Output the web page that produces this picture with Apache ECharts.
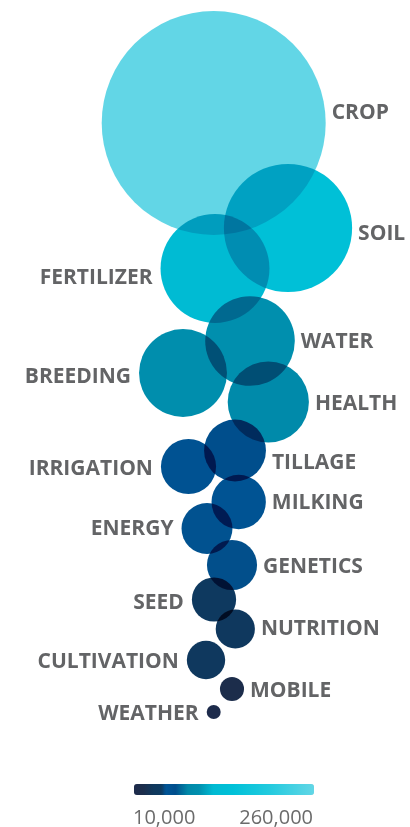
<!DOCTYPE html>
<html><head><meta charset="utf-8">
<script src="https://cdn.jsdelivr.net/npm/echarts@6/dist/echarts.min.js"></script>
<style>html,body{margin:0;padding:0;background:#fff}#chart{width:410px;height:827px}</style>
</head><body><div id="chart"></div>
<script>
// ---- data ----
const topics = ['CROP','SOIL','FERTILIZER','WATER','BREEDING','HEALTH','TILLAGE','IRRIGATION','MILKING','ENERGY','GENETICS','SEED','NUTRITION','CULTIVATION','MOBILE','WEATHER'];
const counts = [260000,146000,123000,100000,98000,90000,67000,59000,58000,54000,53000,46000,40000,39000,22000,10000];
const scaleTicks = [10000, 260000];

// ---- layout (bubble placement in axis units) ----
const posX = [213.7,288,215,250,183,268.3,235,188.5,238.7,207,232,214,235.3,206,232,213.7];
const posY = [123,228,268.5,341,373,402,450.5,466.5,502,528.5,565,599.5,629,660,689,712];
const labelSide = ['right','right','left','right','left','right','right','left','right','left','right','left','right','left','right','left'];
const labelShift = [-10,6,10,1,4,2,13,3,1,1,2,4,0,2,2,2];

// colour ramp
const stops = [[0,'#1D2B4B'],[0.05,'#1C2D4B'],[0.11,'#0F385D'],[0.155,'#0D3A60'],[0.175,'#005596'],[0.23,'#004E8C'],[0.30,'#0088A8'],[0.36,'#008FAE'],[0.44,'#00BAD2'],[0.55,'#00C1D8'],[0.75,'#22CADE'],[1,'#62D6E6']];
function hex(c){return [1,3,5].map(i=>parseInt(c.substr(i,2),16));}
function ramp(n){
  const out=[];
  for(let k=0;k<n;k++){
    const t=k/(n-1);
    let i=0; while(i<stops.length-2 && t>stops[i+1][0]) i++;
    const a=stops[i], b=stops[i+1];
    const f=(t-a[0])/(b[0]-a[0]);
    const ca=hex(a[1]), cb=hex(b[1]);
    const c=ca.map((v,j)=>Math.round(v+(cb[j]-v)*f));
    out.push('rgb('+c.join(',')+')');
  }
  return out;
}
const fmt = v => v.toLocaleString('en-US');

const chart = echarts.init(document.getElementById('chart'));
chart.setOption({
  backgroundColor:'#fff',
  animation:false,
  grid:{left:0,right:0,top:0,bottom:0},
  xAxis:{type:'value',min:0,max:410,show:false},
  yAxis:{type:'value',min:0,max:827,inverse:true,show:false},
  visualMap:[
    {type:'continuous',dimension:2,seriesIndex:0,min:scaleTicks[0],max:scaleTicks[1],
     orient:'horizontal',left:134,top:784,itemWidth:11,itemHeight:180,padding:0,
     calculable:false,hoverLink:false,text:null,
     inRange:{color:ramp(101)}},
    {type:'continuous',dimension:2,seriesIndex:0,min:scaleTicks[0],max:scaleTicks[1],show:false,
     inRange:{symbolSize:[14,224]}}
  ],
  graphic:[
    {type:'text',left:133,top:808,style:{text:fmt(scaleTicks[0]),font:'20px "Open Sans"',fill:'#6b6b6b'}},
    {type:'text',right:97,top:808,style:{text:fmt(scaleTicks[1]),font:'20px "Open Sans"',fill:'#6b6b6b'}}
  ],
  series:[{
    type:'scatter',
    blendMode:'multiply',
    itemStyle:{opacity:1},
    data:topics.map((n,i)=>({
      name:n,
      value:[posX[i],posY[i],counts[i]],
      label:{show:true,position:labelSide[i],distance:labelSide[i]==='left'?8:6,offset:[0,labelShift[i]],
        formatter:'{b}',fontFamily:'Open Sans',fontWeight:'bold',fontSize:21,color:'#636466'}
    }))
  }]
});
</script></body></html>
